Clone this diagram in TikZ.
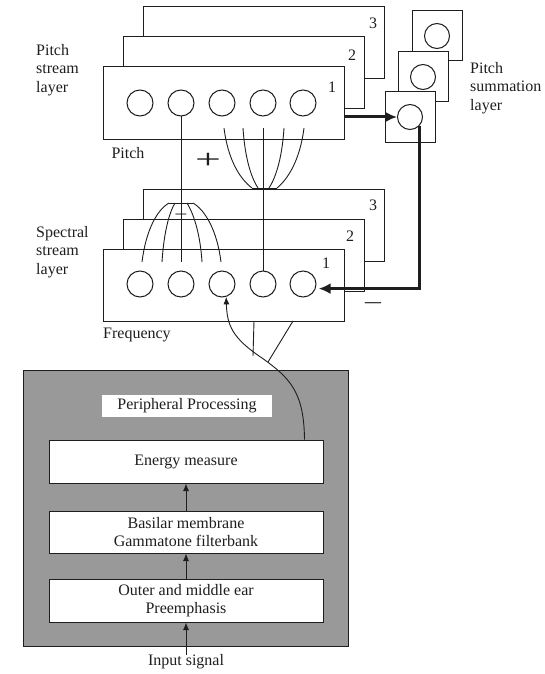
\documentclass[tikz,border=0pt]{standalone}
\usepackage{fontspec}
\setmainfont{Liberation Serif}
\usetikzlibrary{arrows.meta,calc}
\definecolor{ink}{RGB}{30,30,30}
\definecolor{panel}{RGB}{153,153,153}

\begin{document}
\begin{tikzpicture}[x=1pt,y=-1pt,
  txt/.style={font=\fontsize{16}{18.5}\selectfont, inner sep=0pt, text=ink},
  layerbox/.style={draw=ink, fill=white, line width=1pt, minimum width=241pt, minimum height=72pt, inner sep=0pt},
  sumbox/.style={draw=ink, fill=white, line width=1pt, minimum size=50pt, inner sep=0pt},
  unit/.style={circle, draw=ink, fill=white, line width=1pt, minimum size=26pt, inner sep=0pt},
  stage/.style={draw=ink, fill=white, line width=1pt, minimum width=274pt, inner sep=0pt, align=center,
                font=\fontsize{16}{18.5}\selectfont, text=ink},
  wire/.style={draw=ink, line width=0.9pt},
  flow/.style={wire, -{Latex[length=7.5pt,width=6pt]}},
  strong/.style={draw=ink, line width=3pt, -{Latex[length=12pt,width=11pt]}},
]
\useasboundingbox (0,0) rectangle (545,674);

% ---------- pitch stream layer ----------
\node[layerbox] (p3) at (263.5,43) {};
\node[layerbox] (p2) at (243.5,73) {};
\node[layerbox] (p1) at (223.5,103) {};
\node[txt] (p3n) at (373,23) {3};
\node[txt] (p2n) at (352,55) {2};
\node[txt] (p1n) at (332,87) {1};
\foreach \i/\x in {1/140,2/181,3/222,4/263,5/303}
  \node[unit] (pc\i) at (\x,103) {};
\node[txt] (pitchlbl) at (128,153) {Pitch};

% ---------- spectral stream layer ----------
\node[layerbox] (f3) at (263.5,225) {};
\node[layerbox] (f2) at (243.5,255) {};
\node[layerbox] (f1) at (223.5,285) {};
\node[txt] (f3n) at (373,205) {3};
\node[txt] (f2n) at (350,236) {2};
\node[txt] (f1n) at (326,263) {1};
\foreach \i/\x in {1/140,2/181,3/222,4/263,5/303}
  \node[unit] (fc\i) at (\x,284) {};
\node[txt, anchor=west] (freqlbl) at (103,335) {Frequency};

% ---------- pitch summation layer ----------
\node[sumbox] (s3) at (437,36) {};
\node[unit, minimum size=25pt] (sc3) at (s3) {};
\node[sumbox] (s2) at (423,77) {};
\node[unit, minimum size=25pt] (sc2) at (s2) {};
\node[sumbox] (s1) at (410,117) {};
\node[unit, minimum size=25pt] (sc1) at (s1) {};

% ---------- side labels ----------
\node[txt, anchor=west, align=left] (pslbl) at (36,70) {Pitch\\stream\\layer};
\node[txt, anchor=west, align=left] (sslbl) at (36,252) {Spectral\\stream\\layer};
\node[txt, anchor=west, align=left] (sumlbl) at (470,88) {Pitch\\summation\\layer};

% ---------- signs ----------
\node[txt, font=\fontsize{27}{27}\selectfont, xscale=1.7] (plus) at (208,161) {+};
\node[txt, font=\fontsize{22}{22}\selectfont, xscale=1.6] (minusR) at (373,307) {−};
\node[txt, font=\fontsize{18}{18}\selectfont, xscale=1.3] (minusC) at (181,217) {−};

% ---------- pitch fan (spectral unit 4 onto pitch units 3-5) ----------
\foreach \i/\x in {1/224,2/243,3/263,4/284,5/304}
  \coordinate (pt\i) at (\x,128);
\foreach \i/\x in {1/252,2/258,3/263,4/269,5/277}
  \coordinate (pb\i) at (\x,188);
\draw[wire] (pt1) .. controls (228,160) and (240,179) .. (pb1);
\draw[wire] (pt2) .. controls (245,160) and (252,179) .. (pb2);
\draw[wire] (pt4) .. controls (282,160) and (275,179) .. (pb4);
\draw[wire] (pt5) .. controls (300,160) and (288,179) .. (pb5);
\draw[wire] (pb1) -- (pb5);
\draw[wire] (pt3) -- (fc4.north);

% ---------- spectral fan (pitch unit 2 onto spectral units 1-3) ----------
\foreach \i/\x in {1/142,2/162,3/181,4/202,5/221}
  \coordinate (ft\i) at (\x,262);
\foreach \i/\x in {1/169,2/175,3/181,4/187,5/193}
  \coordinate (fb\i) at (\x,203);
\draw[wire] (ft1) .. controls (146,230) and (157,210) .. (fb1);
\draw[wire] (ft2) .. controls (164,230) and (170,211) .. (fb2);
\draw[wire] (ft4) .. controls (200,230) and (192,211) .. (fb4);
\draw[wire] (ft5) .. controls (217,230) and (205,210) .. (fb5);
\draw[wire] (fb1) -- (fb5);
\draw[wire] (pc2.south) -- (ft3);

% ---------- summation feedback ----------
\draw[strong] (p1.east |- sc1.west) -- (sc1.west);
\draw[strong, shorten >=3pt] (sc1.-45) |- (fc5.-20);

% ---------- peripheral processing ----------
\node[draw=ink, fill=panel, line width=1pt, minimum width=325pt, minimum height=276pt, inner sep=0pt] (periph) at (185.5,508) {};
\node[fill=white, minimum width=170pt, minimum height=22pt, inner sep=0pt, font=\fontsize{16}{18.5}\selectfont, text=ink] (pptitle) at (187,406) {Peripheral Processing};
\node[stage, minimum height=43pt] (em) at (186,461.5) {Energy measure};
\node[stage, minimum height=42pt] (bm) at (186,532) {Basilar membrane\\Gammatone filterbank};
\node[stage, minimum height=43pt] (oe) at (186,600.5) {Outer and middle ear\\Preemphasis};
\node[txt] (input) at (186,662) {Input signal};

\draw[flow] (bm.north) -- (em.south);
\draw[flow] (oe.north) -- (bm.south);
\draw[flow] (input.north) -- (oe.south);

% energy output into the spectral layer
\coordinate (emout) at ($(em.north east)+(-19,0)$);
\draw[flow] (emout) .. controls (304,392) and (290,378) .. (262,358)
                    .. controls (232,338) and (227,325) .. (fc3.-72);
\coordinate (tapA) at (254,321);
\coordinate (tapAend) at (253,356);
\coordinate (tapB) at (293,321);
\coordinate (tapBend) at (268,362);
\draw[wire] (tapA) -- (tapAend);
\draw[wire] (tapB) -- (tapBend);
\end{tikzpicture}
\end{document}
